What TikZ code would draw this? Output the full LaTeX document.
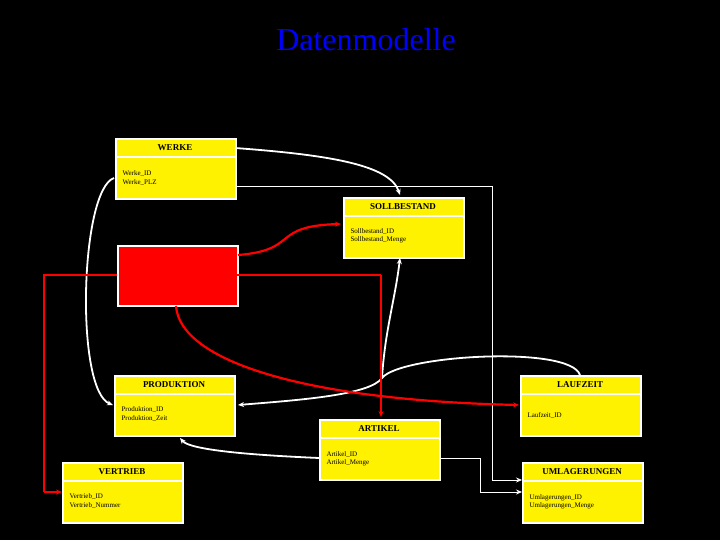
\documentclass[tikz,border=0pt]{standalone}
\usepackage{fontspec}
\setmainfont{Liberation Serif}
\usetikzlibrary{arrows.meta}
\begin{document}
\begin{tikzpicture}[x=1pt,y=-1pt,
  ent/.style={rectangle,fill=yellow,draw=white,line width=1.6pt,minimum width=120pt,minimum height=60pt,anchor=north west,inner sep=0pt},
  hdr/.style={font=\fontsize{9}{10}\selectfont\bfseries,anchor=center},
  fld/.style={font=\fontsize{7}{8.5}\selectfont,anchor=west,align=left},
  wl/.style={draw=white,line width=1.8pt,-{Stealth[length=6pt,width=5pt]}},
  wt/.style={draw=white,line width=0.8pt,-{Stealth[length=6pt,width=5pt]}},
  rl/.style={draw=red,line width=2.2pt,-{Stealth[length=6pt,width=5pt]}}]
\fill[black] (0,0) rectangle (720,540);
\node[text=blue,font=\fontsize{32}{36}\selectfont] (title) at (366,40) {Datenmodelle};
% entities
\newcommand{\ent}[6]{%
  \node[ent] (#1) at (#2,#3) {};
  \draw[white,line width=1.6pt] (#2,#3+19) -- (#2+120,#3+19);
  \node[hdr] (#1h) at (#2+60,#3+9.5) {#4};
  \node[fld] (#1f) at (#2+4,#3+#6) {#5};}
\ent{werke}{115}{138}{WERKE}{Werke\_ID\\Werke\_PLZ}{40}
\ent{soll}{343}{197}{SOLLBESTAND}{Sollbestand\_ID\\Sollbestand\_Menge}{39}
\ent{prod}{114}{375}{PRODUKTION}{Produktion\_ID\\Produktion\_Zeit}{39}
\ent{vert}{62}{462}{VERTRIEB}{Vertrieb\_ID\\Vertrieb\_Nummer}{39}
\ent{art}{319}{419}{ARTIKEL}{Artikel\_ID\\Artikel\_Menge}{40}
\ent{lauf}{520}{375}{LAUFZEIT}{Laufzeit\_ID}{40}
\ent{uml}{522}{462}{UMLAGERUNGEN}{Umlagerungen\_ID\\Umlagerungen\_Menge}{40}
\node[rectangle,fill=red,draw=white,line width=1.6pt,minimum width=120pt,minimum height=60pt,anchor=north west] (red) at (117,245) {};
% coordinates
\coordinate (c1) at (492,186);
\coordinate (c2) at (492,480);
\coordinate (c3) at (480,458);
\coordinate (c4) at (480,492);
\coordinate (r1) at (44,275);
\coordinate (r2) at (44,492);
\coordinate (r3) at (381,275);
\coordinate (j1) at (382,378);
% white connectors
\draw[wl] (235,148) .. controls (330,155) and (390,165) .. (400,195);
\draw[wt,-] (235,186) -- (c1) -- (c2);
\draw[wt] (c2) -- (522,480);
\draw[wt,-] (440,458) -- (c3) -- (c4);
\draw[wt] (c4) -- (522,492);
\draw[wl] (114,178) .. controls (80,190) and (75,390) .. (113,405);
\draw[wl] (580,375) .. controls (570,345) and (400,355) .. (j1) .. controls (370,395) and (300,400) .. (238,405);
\draw[wl] (j1) .. controls (385,330) and (395,300) .. (400,258);
\draw[wl] (319,458) .. controls (250,455) and (190,450) .. (180,438);
% red connectors
\draw[rl] (238,255) .. controls (300,250) and (270,226) .. (341,224);
\draw[rl,-] (117,275) -- (r1) -- (r2);
\draw[rl] (r2) -- (62,492);
\draw[rl,-] (237,275) -- (r3);
\draw[rl,line width=1.6pt] (r3) -- (381,417);
\draw[rl] (176,306) .. controls (180,360) and (300,400) .. (519,405);
\end{tikzpicture}
\end{document}
